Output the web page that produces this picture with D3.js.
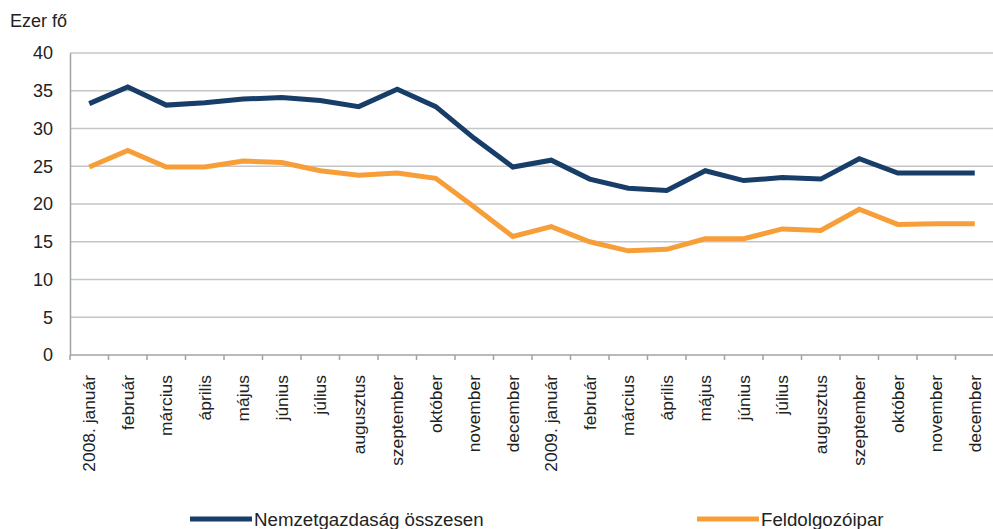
<!DOCTYPE html>
<html>
<head>
<meta charset="utf-8">
<script src="https://cdn.jsdelivr.net/npm/d3@7"></script>
<style>
  body { margin: 0; background: #fff; }
  text { font-family: "Liberation Sans", Arial, sans-serif; fill: #222; }
</style>
</head>
<body>
<div id="chart"></div>
<script>
var months = ["2008. január", "február", "március", "április", "május", "június", "július",
    "augusztus", "szeptember", "október", "november", "december",
    "2009. január", "február", "március", "április", "május", "június", "július",
    "augusztus", "szeptember", "október", "november", "december"];

var osszesen = [33.3, 35.5, 33.1, 33.4, 33.9, 34.1, 33.7, 32.9, 35.2, 32.9, 28.7, 24.9,
    25.8, 23.3, 22.1, 21.8, 24.4, 23.1, 23.5, 23.3, 26.0, 24.1, 24.1, 24.1];

var feldolgozoipar = [24.9, 27.1, 24.9, 24.9, 25.7, 25.5, 24.4, 23.8, 24.1, 23.4, 19.6, 15.7,
    17.0, 15.0, 13.8, 14.0, 15.4, 15.4, 16.7, 16.5, 19.3, 17.3, 17.4, 17.4];

var yTicks = [0, 5, 10, 15, 20, 25, 30, 35, 40];
var seriesNames = ["Nemzetgazdaság összesen", "Feldolgozóipar"];

var svgWidth = 993;
var svgHeight = 529;

var margin = { top: 53, right: 0, bottom: 174, left: 70 };
var chartWidth = 924;
var chartHeight = svgHeight - margin.top - margin.bottom;

var svg = d3.select("#chart")
    .append("svg")
    .attr("width", svgWidth)
    .attr("height", svgHeight);

var chartGroup = svg.append("g")
    .attr("transform", `translate(${margin.left}, ${margin.top})`);

var idx = months.map((m, i) => i);

var xScale = d3.scaleBand()
    .domain(idx)
    .range([0, chartWidth]);

var yScale = d3.scaleLinear()
    .domain([0, 40])
    .range([chartHeight, 0]);

// gridlines
chartGroup.selectAll(".grid")
    .data(yTicks.filter(d => d > 0))
    .enter()
    .append("line")
    .attr("x1", 0)
    .attr("x2", svgWidth - margin.left)
    .attr("y1", d => yScale(d))
    .attr("y2", d => yScale(d))
    .attr("stroke", "#c4c6c8")
    .attr("stroke-width", 1.3);

// y axis
var leftAxis = d3.axisLeft(yScale).tickValues(yTicks).tickSize(0).tickPadding(17);
var yAxisG = chartGroup.append("g").call(leftAxis);
yAxisG.select(".domain").attr("stroke", "#9ea3a6").attr("stroke-width", 1.5);
yAxisG.selectAll("text")
    .attr("font-size", "18px")
    .attr("fill", "#222")
    .style("font-family", "'Liberation Sans', Arial, sans-serif");

// x axis
var boundaries = idx.map(i => xScale(i)).concat([chartWidth]);
var xAxisG = chartGroup.append("g")
    .attr("transform", `translate(0, ${chartHeight})`);
xAxisG.append("line")
    .attr("x1", 0)
    .attr("x2", svgWidth - margin.left)
    .attr("stroke", "#9ea3a6")
    .attr("stroke-width", 1.5);
xAxisG.selectAll(".tick")
    .data(boundaries)
    .enter()
    .append("line")
    .attr("x1", d => d)
    .attr("x2", d => d)
    .attr("y1", 0)
    .attr("y2", 5)
    .attr("stroke", "#9ea3a6")
    .attr("stroke-width", 1.5);
xAxisG.selectAll(".xlabel")
    .data(months)
    .enter()
    .append("text")
    .attr("transform", (d, i) => `translate(${xScale(i) + xScale.bandwidth() / 2 + 6}, 20) rotate(-90)`)
    .attr("text-anchor", "end")
    .attr("font-size", "17.4px")
    .text(d => d);

// lines
var line = d3.line()
    .x((d, i) => xScale(i) + xScale.bandwidth() / 2)
    .y(d => yScale(d));

chartGroup.append("path")
    .datum(feldolgozoipar)
    .attr("d", line)
    .attr("fill", "none")
    .attr("stroke", "#f89e38")
    .attr("stroke-width", 5);

chartGroup.append("path")
    .datum(osszesen)
    .attr("d", line)
    .attr("fill", "none")
    .attr("stroke", "#173d68")
    .attr("stroke-width", 5);

// y title
svg.append("text")
    .attr("x", 10)
    .attr("y", 27)
    .attr("font-size", "18px")
    .text("Ezer fő");

// legend
var legendItems = [
    { name: seriesNames[0], color: "#173d68", x: 190 },
    { name: seriesNames[1], color: "#f89e38", x: 697 }
];
var legend = svg.selectAll(".legend")
    .data(legendItems)
    .enter()
    .append("g")
    .attr("transform", d => `translate(${d.x}, 519)`);
legend.append("line")
    .attr("x1", 0)
    .attr("x2", 62)
    .attr("stroke", d => d.color)
    .attr("stroke-width", 5);
legend.append("text")
    .attr("x", 64)
    .attr("y", 7)
    .attr("font-size", "18.7px")
    .text(d => d.name);
</script>
</body>
</html>
